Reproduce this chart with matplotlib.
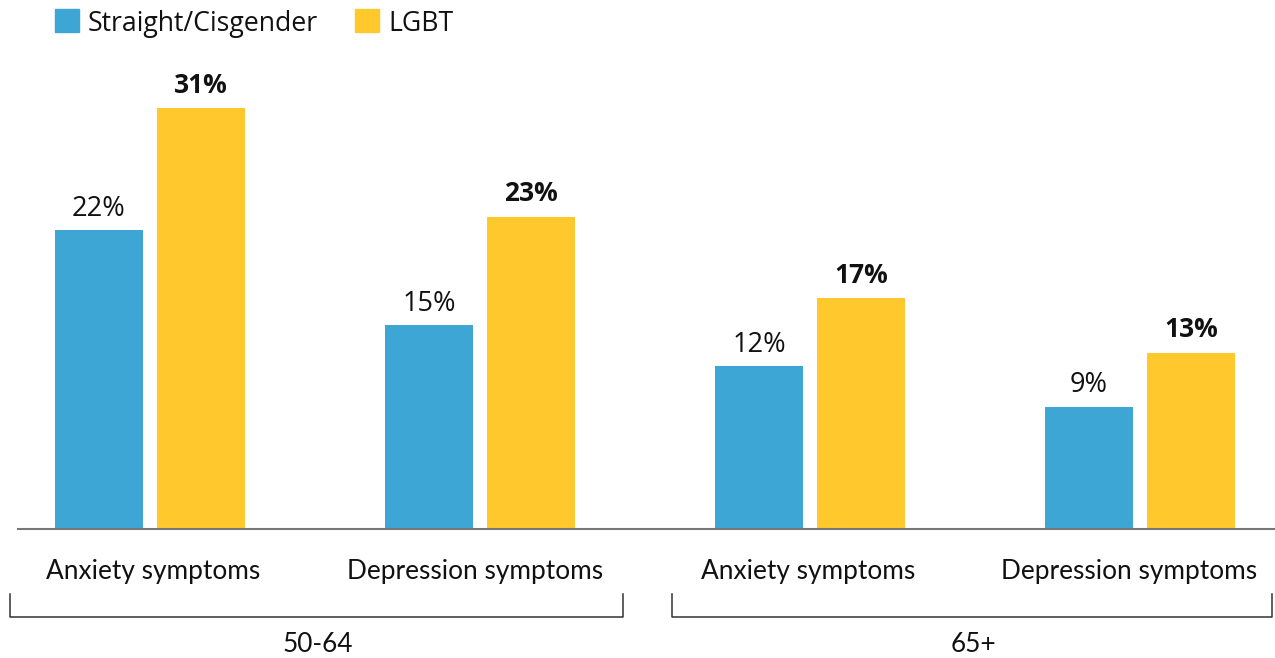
import matplotlib
matplotlib.use("Agg")
import matplotlib.pyplot as plt
from matplotlib.patches import Rectangle

# Data
categories = ["Anxiety symptoms", "Depression symptoms", "Anxiety symptoms", "Depression symptoms"]
age_groups = ["50-64", "65+"]
straight = [22, 15, 12, 9]
lgbt = [31, 23, 17, 13]
series_names = ["Straight/Cisgender", "LGBT"]

BLUE = "#3ea6d5"
YELLOW = "#ffc92d"

W, H = 1275, 658
fig = plt.figure(figsize=(W / 100, H / 100), dpi=100)

base_px = 529          # baseline, pixels from top
px_per_unit = 13.57    # pixels per percentage point
ax = fig.add_axes([0, (H - base_px) / H, 1, base_px / H])
ax.set_ylim(0, base_px / px_per_unit)

# x: group i centred at pixel 150 + 330*i
x0_px, step_px = 150, 330
ax.set_xlim(-x0_px / step_px, (W - x0_px) / step_px)
ax.axis("off")

bw = 88 / step_px
off = 51 / step_px
xs = list(range(len(categories)))

ax.bar([x - off for x in xs], straight, width=bw, color=BLUE, zorder=2)
ax.bar([x + off for x in xs], lgbt, width=bw, color=YELLOW, zorder=2)

for x, s, l in zip(xs, straight, lgbt):
    ax.annotate(f"{s}%", (x - off, s), xytext=(0, 5.5), textcoords="offset points",
                ha="center", va="bottom", fontsize=19.5, family="Open Sans", color="#111111")
    ax.annotate(f"{l}%", (x + off, l), xytext=(0, 7), textcoords="offset points",
                ha="center", va="bottom", fontsize=19, family="Open Sans",
                fontweight="bold", color="#111111")

# Baseline
ax.plot([18 / W, 1], [0, 0], transform=ax.transAxes, color="#777777", lw=1.5,
        clip_on=False, zorder=3)


def fy(py):
    return 1 - py / H


# Category labels
label_x_px = [153, 475, 808, 1129]
for lx, c in zip(label_x_px, categories):
    fig.text(lx / W, fy(571), c, ha="center", va="center", fontsize=18.9,
             family="Lato", color="#111111")

# Age group brackets
brackets = [(10, 623), (672, 1272)]
label_centres = [318, 973]
for (l, r), lab, cx in zip(brackets, age_groups, label_centres):
    top, bot = fy(594), fy(617)
    fig.lines.append(plt.Line2D([l / W, l / W, r / W, r / W], [top, bot, bot, top],
                                transform=fig.transFigure, color="#333333", lw=1.1))
    fig.text(cx / W, fy(644), lab, ha="center", va="center", fontsize=18.9,
             family="Lato", color="#111111")

# Legend
for (lx, name, col) in [(55, series_names[0], BLUE), (355, series_names[1], YELLOW)]:
    fig.patches.append(Rectangle((lx / W, fy(32)), 24 / W, 23 / H,
                                 transform=fig.transFigure, color=col))
    fig.text((lx + 33) / W, fy(24), name, ha="left", va="center", fontsize=19.2,
             family="Open Sans", color="#111111")

fig.savefig("out.png", dpi=100)
